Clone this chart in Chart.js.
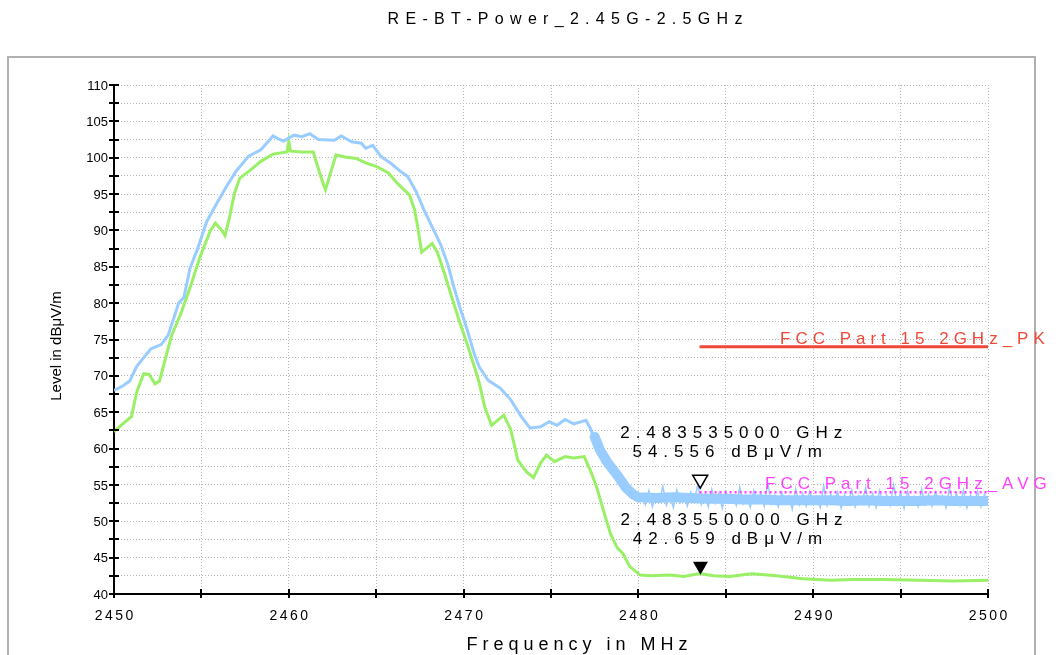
<!DOCTYPE html>
<html>
<head>
<meta charset="utf-8">
<script src="https://cdn.jsdelivr.net/npm/chart.js@4.4.1/dist/chart.umd.min.js"></script>
<style>
  html, body { margin: 0; padding: 0; background: #fff; }
  canvas { display: block; }
</style>
</head>
<body>
<canvas id="myChart" width="1062" height="655"></canvas>
<script>
// peak trace (blue)
const pkFreq = [2450.0, 2450.5, 2450.9, 2451.3, 2451.7, 2452.1, 2452.7, 2453.1, 2453.4, 2453.7,
  2454.0, 2454.35, 2454.8, 2455.3, 2455.9, 2456.5, 2457.0, 2457.7, 2458.4, 2459.1,
  2459.4, 2459.7, 2460.3, 2460.75, 2461.2, 2461.7, 2462.6, 2463.0, 2463.6, 2464.15,
  2464.4, 2464.8, 2465.3, 2465.85, 2466.4, 2466.8, 2467.3, 2467.7, 2468.2, 2468.7,
  2469.1, 2469.4, 2469.8, 2470.2, 2470.6, 2470.9, 2471.4, 2472.1, 2472.7, 2473.3,
  2473.8, 2474.4, 2474.9, 2475.35, 2475.8, 2476.3, 2477.0, 2477.25, 2477.6, 2478.2,
  2478.8, 2479.3, 2479.7, 2480.0]
const pkLevel = [68.0, 68.6, 69.3, 71.3, 72.5, 73.7, 74.3, 75.6, 77.8, 80.0,
  80.8, 84.8, 87.6, 91.2, 93.8, 96.3, 98.2, 100.2, 101.1, 103.0,
  102.6, 102.3, 103.1, 102.9, 103.3, 102.5, 102.4, 103.0, 102.2, 102.0,
  101.3, 101.7, 100.1, 99.2, 98.1, 97.4, 95.3, 93.0, 90.5, 88.0,
  85.3, 82.6, 79.3, 76.4, 73.1, 71.2, 69.4, 68.3, 66.7, 64.4,
  62.8, 63.0, 63.7, 63.2, 64.0, 63.4, 63.9, 62.8, 60.7, 58.4,
  56.6, 54.8, 53.8, 53.3]
// noise floor of the peak trace: thick core of the band ...
const pkFloorFreq = [2477.5, 2477.8, 2478.2, 2478.8, 2479.3, 2479.7, 2480, 2481, 2482, 2483, 2484, 2485, 2486,
  2487, 2488, 2489, 2490, 2491, 2492, 2493, 2494, 2495, 2496, 2497, 2498, 2499, 2500]
const pkFloorLevel = [61.6, 59.8, 58.2, 56.3, 54.6, 53.7, 53.3, 53.2, 53.3, 53.2, 53.1, 53.1, 53.0,
  53.0, 52.9, 52.9, 52.9, 52.9, 52.8, 52.9, 52.8, 52.8, 52.8, 52.9, 52.8, 52.8, 52.8]
// ... and its spikes, one value per 0.2 MHz sweep point from 2480.2 MHz
const pkSpikeStart = 2480.2
const pkSpikeStep = 0.2
const pkSpikes = [53.9, 52.3, 54.2, 52.0, 53.6, 52.7, 54.8, 52.2, 53.4, 51.9,
  54.3, 52.6, 53.7, 52.1, 54.0, 52.8, 55.1, 52.3, 53.5, 52.0,
  54.4, 52.5, 53.8, 51.8, 54.1, 52.9, 53.6, 52.2, 54.7, 52.4,
  53.3, 51.9, 54.2, 52.6, 53.9, 52.1, 55.3, 52.4, 53.6, 52.0,
  54.0, 52.7, 53.5, 51.7, 54.5, 52.3, 53.8, 52.1, 54.1, 52.6,
  53.4, 51.9, 54.9, 52.2, 53.7, 52.5, 54.0, 51.8, 53.6, 52.4,
  54.3, 52.0, 53.5, 52.7, 54.6, 52.1, 53.8, 51.9, 54.2, 52.5,
  53.6, 52.2, 55.0, 52.4, 53.9, 51.8, 54.1, 52.6, 53.4, 52.0,
  54.4, 52.3, 53.7, 52.1, 54.0, 52.8, 53.5, 51.9, 54.6, 52.4,
  53.8, 52.2, 54.3, 51.9, 53.6, 52.5, 54.1, 52.0, 53.7, 52.3]

// average trace (green)
const avgFreq = [2450.0, 2450.5, 2451.0, 2451.3, 2451.7, 2452.0, 2452.35, 2452.6, 2452.9, 2453.3,
  2453.8, 2454.35, 2454.9, 2455.5, 2455.8, 2456.1, 2456.35, 2456.6, 2456.9, 2457.2,
  2457.8, 2458.4, 2459.1, 2459.9, 2460.0, 2460.1, 2460.75, 2461.4, 2461.6, 2461.9,
  2462.1, 2462.35, 2462.7, 2463.2, 2463.85, 2464.5, 2465.0, 2465.7, 2466.2, 2466.9,
  2467.2, 2467.4, 2467.6, 2467.9, 2468.2, 2468.5, 2468.9, 2469.3, 2469.8, 2470.2,
  2470.6, 2470.9, 2471.2, 2471.6, 2472.3, 2472.7, 2473.1, 2473.6, 2474.0, 2474.4,
  2474.75, 2475.2, 2475.8, 2476.3, 2476.9, 2477.25, 2477.6, 2478.0, 2478.4, 2478.8,
  2479.1, 2479.5, 2480.1, 2480.7, 2481.8, 2482.6, 2483.5, 2484.3, 2485.2, 2486.5,
  2487.9, 2489.4, 2491.0, 2492.3, 2494.0, 2496.1, 2498.0, 2500.0]
const avgLevel = [62.3, 63.4, 64.4, 67.8, 70.3, 70.2, 68.9, 69.3, 72.0, 75.6,
  78.4, 82.1, 86.2, 89.9, 91.0, 90.2, 89.3, 91.7, 95.2, 97.2,
  98.3, 99.5, 100.5, 100.8, 102.3, 100.9, 100.8, 100.8, 99.2, 96.9,
  95.6, 97.6, 100.4, 100.1, 99.9, 99.2, 98.8, 97.9, 96.5, 94.9,
  92.8, 90.1, 87.0, 87.6, 88.2, 87.0, 84.1, 81.0, 77.2, 74.4,
  71.4, 69.0, 65.8, 63.2, 64.6, 62.6, 58.4, 56.8, 56.0, 58.0,
  59.1, 58.2, 58.9, 58.7, 58.9, 57.0, 54.8, 51.5, 48.3, 46.3,
  45.6, 43.8, 42.6, 42.5, 42.6, 42.4, 42.8, 42.5, 42.4, 42.8,
  42.5, 42.1, 41.9, 42.0, 42.0, 41.9, 41.8, 41.9]

// limit lines
const limitFreq = [2483.5, 2500]
const pkLimit = [74, 74]
const avgLimit = [54, 54]
const limitNames = ['FCC Part 15 2GHz_PK', 'FCC Part 15 2GHz_AVG']

// markers
const markerFreq = [2483.535, 2483.55]
const markerLevel = [54.556, 42.659]
const markerText = [['2.483535000 GHz', '54.556 dBμV/m'], ['2.483550000 GHz', '42.659 dBμV/m']]

const FONT = '"Liberation Sans", Arial, sans-serif'
const BLUE = '#99ccff'
const GREEN = '#99f066'
const RED = '#f04838'
const MAGENTA = '#ff40ff'

const toPoints = (xs, ys) => xs.map((f, i) => ({ x: f, y: ys[i] }))
const pkPoints = toPoints(pkFreq, pkLevel)
const pkFloorPoints = toPoints(pkFloorFreq, pkFloorLevel)
const pkSpikePoints = pkSpikes.map((v, i) => ({ x: pkSpikeStart + i * pkSpikeStep, y: v }))
const avgPoints = toPoints(avgFreq, avgLevel)
const pkLimitPoints = toPoints(limitFreq, pkLimit)
const avgLimitPoints = toPoints(limitFreq, avgLimit)

function spacedText(ctx, text, x, y, font, spacing, color, align) {
  ctx.save()
  ctx.font = font
  ctx.letterSpacing = spacing + 'px'
  ctx.fillStyle = color
  ctx.textAlign = align || 'left'
  ctx.textBaseline = 'alphabetic'
  const shift = align === 'center' ? spacing / 2 : (align === 'right' ? spacing : 0)
  ctx.fillText(text, x + shift, y)
  ctx.restore()
}

const framePlugin = {
  id: 'frame',
  beforeDraw(chart) {
    const ctx = chart.ctx
    ctx.save()
    ctx.fillStyle = '#fff'
    ctx.fillRect(0, 0, chart.width, chart.height)
    ctx.strokeStyle = '#b0b0b0'
    ctx.lineWidth = 2
    ctx.beginPath()
    ctx.moveTo(8, 700)
    ctx.lineTo(8, 57)
    ctx.lineTo(1035, 57)
    ctx.lineTo(1035, 700)
    ctx.stroke()
    ctx.restore()
  },
  afterDraw(chart) {
    const ctx = chart.ctx
    const xs = chart.scales.x
    const ys = chart.scales.y
    const area = chart.chartArea

    // axis ticks crossing the axis lines
    ctx.save()
    ctx.strokeStyle = '#000'
    ctx.lineWidth = 2
    ys.ticks.forEach(t => {
      const py = Math.round(ys.getPixelForValue(t.value))
      ctx.beginPath()
      ctx.moveTo(area.left - 5, py)
      ctx.lineTo(area.left + 5, py)
      ctx.stroke()
    })
    xs.ticks.forEach(t => {
      const px = Math.round(xs.getPixelForValue(t.value))
      ctx.beginPath()
      ctx.moveTo(px, area.bottom - 5)
      ctx.lineTo(px, area.bottom + 4)
      ctx.stroke()
    })
    ctx.restore()

    // tick labels
    ys.ticks.forEach(t => {
      if (t.value % 5 !== 0) return
      ctx.save()
      ctx.font = '13px ' + FONT
      ctx.fillStyle = '#000'
      ctx.textAlign = 'right'
      ctx.textBaseline = 'middle'
      ctx.fillText(String(t.value), area.left - 6, ys.getPixelForValue(t.value) + 1)
      ctx.restore()
    })
    xs.ticks.forEach(t => {
      if (t.value % 10 !== 0) return
      spacedText(ctx, String(t.value), xs.getPixelForValue(t.value), area.bottom + 26, '14px ' + FONT, 2.5, '#000', 'center')
    })

    // titles
    spacedText(ctx, 'RE-BT-Power_2.45G-2.5GHz', 565, 24, '16px ' + FONT, 6.3, '#000', 'center')
    spacedText(ctx, 'Frequency in MHz', 577, 650, '18px ' + FONT, 5, '#000', 'center')
    ctx.save()
    ctx.translate(61, 346)
    ctx.rotate(-Math.PI / 2)
    ctx.font = '15px ' + FONT
    ctx.fillStyle = '#000'
    ctx.textAlign = 'center'
    ctx.textBaseline = 'alphabetic'
    ctx.fillText('Level in dBμV/m', 0, 0)
    ctx.restore()

    // limit line names
    spacedText(ctx, limitNames[0], 780, ys.getPixelForValue(pkLimit[1]) - 3, '17px ' + FONT, 5, RED, 'left')
    spacedText(ctx, limitNames[1], 765, ys.getPixelForValue(avgLimit[1]) - 3, '17px ' + FONT, 5, MAGENTA, 'left')

    // markers
    markerFreq.forEach((f, i) => {
      const px = xs.getPixelForValue(f)
      const py = ys.getPixelForValue(markerLevel[i])
      ctx.save()
      ctx.beginPath()
      ctx.moveTo(px, py)
      ctx.lineTo(px - 7.5, py - 13)
      ctx.lineTo(px + 7.5, py - 13)
      ctx.closePath()
      if (i === 0) {
        ctx.fillStyle = '#fff'
        ctx.fill()
        ctx.strokeStyle = '#000'
        ctx.lineWidth = 1.5
        ctx.stroke()
      } else {
        ctx.fillStyle = '#000'
        ctx.fill()
      }
      ctx.restore()
      spacedText(ctx, markerText[i][0], px + 31, py - 50, '17px ' + FONT, 6, '#000', 'center')
      spacedText(ctx, markerText[i][1], px + 27, py - 31, '17px ' + FONT, 6, '#000', 'center')
    })
  }
}

const ctx = document.getElementById('myChart')
new Chart(ctx, {
  type: 'scatter',
  data: {
    datasets: [
      { label: 'PK limit', data: pkLimitPoints, showLine: true, borderColor: RED, borderWidth: 3, pointRadius: 0, order: 0 },
      { label: 'AVG limit', data: avgLimitPoints, showLine: true, borderColor: MAGENTA, borderWidth: 2.5, borderDash: [2, 3], pointRadius: 0, order: 0 },
      { label: 'Peak', data: pkPoints, showLine: true, borderColor: BLUE, borderWidth: 3, pointRadius: 0, order: 1 },
      { label: 'Peak floor', data: pkFloorPoints, showLine: true, borderColor: BLUE, borderWidth: 10, borderCapStyle: 'round', borderJoinStyle: 'round', pointRadius: 0, order: 1 },
      { label: 'Peak spikes', data: pkSpikePoints, showLine: true, borderColor: BLUE, borderWidth: 1.5, pointRadius: 0, order: 1 },
      { label: 'Average', data: avgPoints, showLine: true, borderColor: GREEN, borderWidth: 3, pointRadius: 0, order: 2 }
    ]
  },
  options: {
    responsive: false,
    animation: false,
    layout: { padding: { left: 0, right: 74, top: 85, bottom: 0 } },
    plugins: { legend: { display: false }, tooltip: { enabled: false }, title: { display: false } },
    scales: {
      x: {
        type: 'linear',
        min: 2450,
        max: 2500,
        ticks: { stepSize: 5, display: false },
        grid: { color: '#b8b8b8', lineWidth: 1, drawTicks: false },
        border: { color: '#000', width: 2, dash: [1, 2] },
        afterFit: s => { s.height = 61 }
      },
      y: {
        min: 40,
        max: 110,
        ticks: { stepSize: 2.5, display: false },
        grid: { color: '#b8b8b8', lineWidth: 1, drawTicks: false },
        border: { color: '#000', width: 2, dash: [1, 2] },
        afterFit: s => { s.width = 114 }
      }
    }
  },
  plugins: [framePlugin]
})
</script>
</body>
</html>
